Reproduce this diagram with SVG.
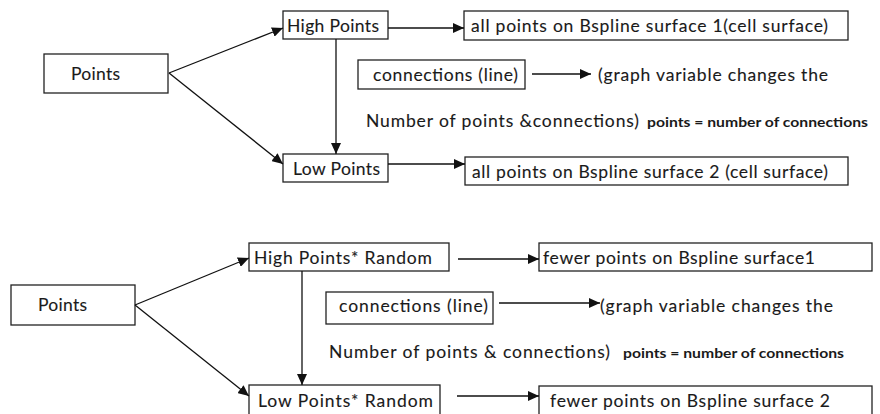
<svg xmlns="http://www.w3.org/2000/svg" width="880" height="414" viewBox="0 0 880 414">
  <defs>
    <marker id="arrow" markerUnits="userSpaceOnUse" markerWidth="12" markerHeight="10" refX="11" refY="5" orient="auto">
      <path d="M0,0 L11,5 L0,10 Z" fill="#111"/>
    </marker>
    <style>
      .box { fill: #fff; stroke: #222; stroke-width: 1.3; }
      .edge { fill: none; stroke: #111; stroke-width: 1.3; marker-end: url(#arrow); }
      .t { font-family: Lato, "Open Sans", sans-serif; font-size: 17.5px; fill: #1a1a1a; stroke: #1a1a1a; stroke-width: 0.12; }
      .b { font-family: Lato, "Open Sans", sans-serif; font-size: 13px; font-weight: bold; fill: #1a1a1a; }
    </style>
  </defs>
  <rect width="880" height="414" fill="#fff"/>

  <!-- upper flow -->
  <g id="points-1"><rect class="box" x="44" y="54" width="124" height="39"/><text class="t" x="71" y="80" textLength="49">Points</text></g>
  <g id="high-1"><rect class="box" x="283" y="11" width="105" height="28"/><text class="t" x="287" y="32" textLength="92">High Points</text></g>
  <g id="low-1"><rect class="box" x="283" y="154" width="105" height="28"/><text class="t" x="293" y="175" textLength="87">Low Points</text></g>
  <g id="surface-1"><rect class="box" x="464" y="11" width="384" height="29"/><text class="t" x="471" y="32" textLength="357">all points  on Bspline surface 1(cell surface)</text></g>
  <g id="surface-2"><rect class="box" x="465" y="157" width="383" height="28"/><text class="t" x="472" y="178" textLength="356">all points on Bspline surface 2 (cell surface)</text></g>
  <g id="connections-1"><rect class="box" x="358" y="60" width="167" height="29"/><text class="t" x="373" y="81" textLength="145">connections (line)</text></g>
  <g id="note-1">
    <text class="t" x="598" y="81" textLength="230">(graph variable changes the</text>
    <text class="t" x="366" y="127" textLength="273">Number of points &amp;connections)</text>
    <text class="b" x="647" y="127" textLength="221" lengthAdjust="spacingAndGlyphs">points = number of connections</text>
  </g>

  <!-- lower flow -->
  <g id="points-2"><rect class="box" x="11" y="285" width="124" height="40"/><text class="t" x="38" y="311" textLength="49">Points</text></g>
  <g id="high-2"><rect class="box" x="249" y="243" width="200" height="28"/><text class="t" x="254" y="264" textLength="178">High Points*  Random</text></g>
  <g id="low-2"><rect class="box" x="249" y="385" width="191" height="30"/><text class="t" x="258" y="407" textLength="175">Low Points*  Random</text></g>
  <g id="fewer-1"><rect class="box" x="539" y="243" width="333" height="28"/><text class="t" x="543" y="264" textLength="272">fewer points on Bspline surface1</text></g>
  <g id="fewer-2"><rect class="box" x="539" y="386" width="333" height="30"/><text class="t" x="550" y="407" textLength="280">fewer points  on Bspline surface 2</text></g>
  <g id="connections-2"><rect class="box" x="326" y="292" width="167" height="32"/><text class="t" x="339" y="312" textLength="149">connections (line)</text></g>
  <g id="note-2">
    <text class="t" x="600" y="312" textLength="233">(graph variable changes the</text>
    <text class="t" x="329" y="358" textLength="281">Number of points &amp;  connections)</text>
    <text class="b" x="623" y="358" textLength="221" lengthAdjust="spacingAndGlyphs">points = number of connections</text>
  </g>

  <g id="connectors">
    <line class="edge" x1="169" y1="73" x2="283" y2="28"/>
    <line class="edge" x1="169" y1="73" x2="283" y2="164"/>
    <line class="edge" x1="336" y1="39" x2="336" y2="154"/>
    <line class="edge" x1="388" y1="28" x2="464" y2="28"/>
    <line class="edge" x1="388" y1="164" x2="465" y2="164"/>
    <line class="edge" x1="532" y1="74" x2="591" y2="74"/>

    <line class="edge" x1="135" y1="305" x2="249" y2="258"/>
    <line class="edge" x1="135" y1="305" x2="249" y2="396"/>
    <line class="edge" x1="302" y1="271" x2="302" y2="385"/>
    <line class="edge" x1="458" y1="259" x2="539" y2="259"/>
    <line class="edge" x1="499" y1="303" x2="600" y2="303"/>
    <line class="edge" x1="457" y1="396" x2="539" y2="396"/>
  </g>
</svg>
